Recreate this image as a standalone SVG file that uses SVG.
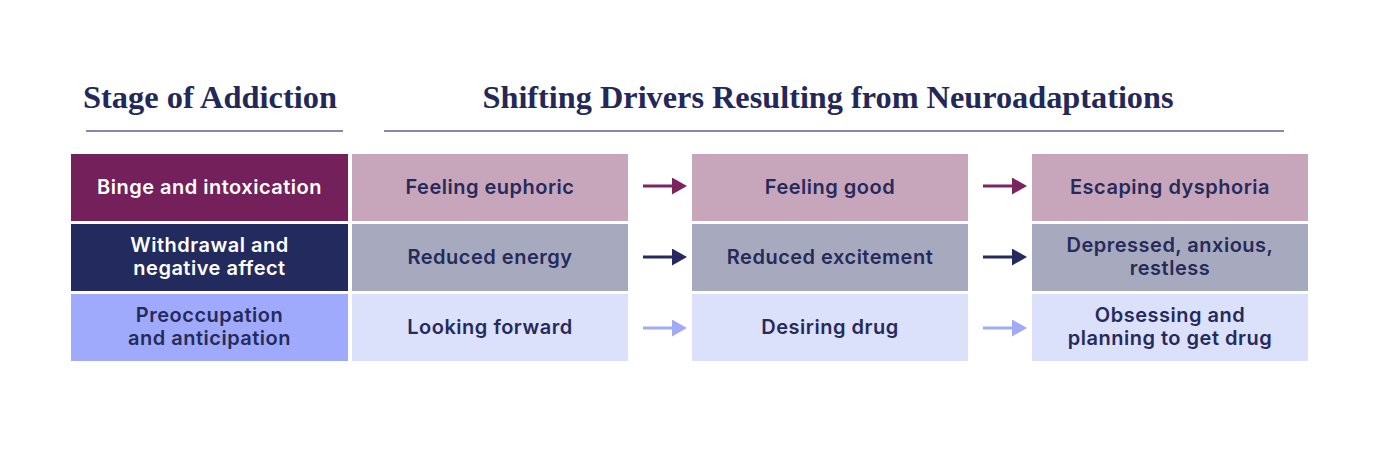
<svg xmlns="http://www.w3.org/2000/svg" width="1400" height="451" viewBox="0 0 1400 451">
<style>
.h{font-family:"Liberation Serif",serif;font-weight:bold;font-size:31px;fill:#232858;text-anchor:middle}
.t{font-family:Inter,"Liberation Sans",sans-serif;font-weight:600;font-size:20px;letter-spacing:0.5px;text-anchor:middle;fill:#262a5b}
.w{fill:#ffffff}
.rule{stroke:#8a86ae;stroke-width:2}
</style>
<defs>
<marker id="a1" markerWidth="15" markerHeight="17" refX="0" refY="8.5" markerUnits="userSpaceOnUse" orient="auto"><path d="M0,0L15,8.5L0,17Z" fill="#7a2460"/></marker>
<marker id="a2" markerWidth="15" markerHeight="17" refX="0" refY="8.5" markerUnits="userSpaceOnUse" orient="auto"><path d="M0,0L15,8.5L0,17Z" fill="#262a5e"/></marker>
<marker id="a3" markerWidth="15" markerHeight="17" refX="0" refY="8.5" markerUnits="userSpaceOnUse" orient="auto"><path d="M0,0L15,8.5L0,17Z" fill="#a0aaf5"/></marker>
</defs>
<rect width="1400" height="451" fill="#ffffff"/>
<g id="headers">
<text class="h" x="210" y="108" textLength="254" lengthAdjust="spacingAndGlyphs">Stage of Addiction</text>
<line class="rule" x1="86" y1="131" x2="343" y2="131"/>
<text class="h" x="828" y="108" textLength="691" lengthAdjust="spacingAndGlyphs">Shifting Drivers Resulting from Neuroadaptations</text>
<line class="rule" x1="384" y1="131" x2="1284" y2="131"/>
</g>
<g id="stage1"><rect x="71" y="154" width="277" height="67" fill="#74205a"/><text class="t w" x="209.5" y="194">Binge and intoxication</text></g>
<g id="stage2"><rect x="71" y="224" width="277" height="67" fill="#232a5e"/><text class="t w" x="209.5" y="252">Withdrawal and</text><text class="t w" x="209.5" y="275">negative affect</text></g>
<g id="stage3"><rect x="71" y="294" width="277" height="67" fill="#9faafc"/><text class="t" x="209.5" y="322">Preoccupation</text><text class="t" x="209.5" y="345">and anticipation</text></g>
<g id="r1c1"><rect x="352" y="154" width="276" height="67" fill="#c7a6bb"/><text class="t" x="490" y="194">Feeling euphoric</text></g>
<g id="r1c2"><rect x="692" y="154" width="276" height="67" fill="#c7a6bb"/><text class="t" x="830" y="194">Feeling good</text></g>
<g id="r1c3"><rect x="1032" y="154" width="276" height="67" fill="#c7a6bb"/><text class="t" x="1170" y="194">Escaping dysphoria</text></g>
<g id="r2c1"><rect x="352" y="224" width="276" height="67" fill="#a7aabe"/><text class="t" x="490" y="264">Reduced energy</text></g>
<g id="r2c2"><rect x="692" y="224" width="276" height="67" fill="#a7aabe"/><text class="t" x="830" y="264">Reduced excitement</text></g>
<g id="r2c3"><rect x="1032" y="224" width="276" height="67" fill="#a7aabe"/><text class="t" x="1170" y="252">Depressed, anxious,</text><text class="t" x="1170" y="275">restless</text></g>
<g id="r3c1"><rect x="352" y="294" width="276" height="67" fill="#dbe0fb"/><text class="t" x="490" y="334">Looking forward</text></g>
<g id="r3c2"><rect x="692" y="294" width="276" height="67" fill="#dbe0fb"/><text class="t" x="830" y="334">Desiring drug</text></g>
<g id="r3c3"><rect x="1032" y="294" width="276" height="67" fill="#dbe0fb"/><text class="t" x="1170" y="322">Obsessing and</text><text class="t" x="1170" y="345">planning to get drug</text></g>
<g id="connectors" stroke-width="3">
<line x1="643" y1="186" x2="672" y2="186" stroke="#7a2460" marker-end="url(#a1)"/>
<line x1="983" y1="186" x2="1012" y2="186" stroke="#7a2460" marker-end="url(#a1)"/>
<line x1="643" y1="257" x2="672" y2="257" stroke="#262a5e" marker-end="url(#a2)"/>
<line x1="983" y1="257" x2="1012" y2="257" stroke="#262a5e" marker-end="url(#a2)"/>
<line x1="643" y1="328" x2="672" y2="328" stroke="#a0aaf5" marker-end="url(#a3)"/>
<line x1="983" y1="328" x2="1012" y2="328" stroke="#a0aaf5" marker-end="url(#a3)"/>
</g>
</svg>
